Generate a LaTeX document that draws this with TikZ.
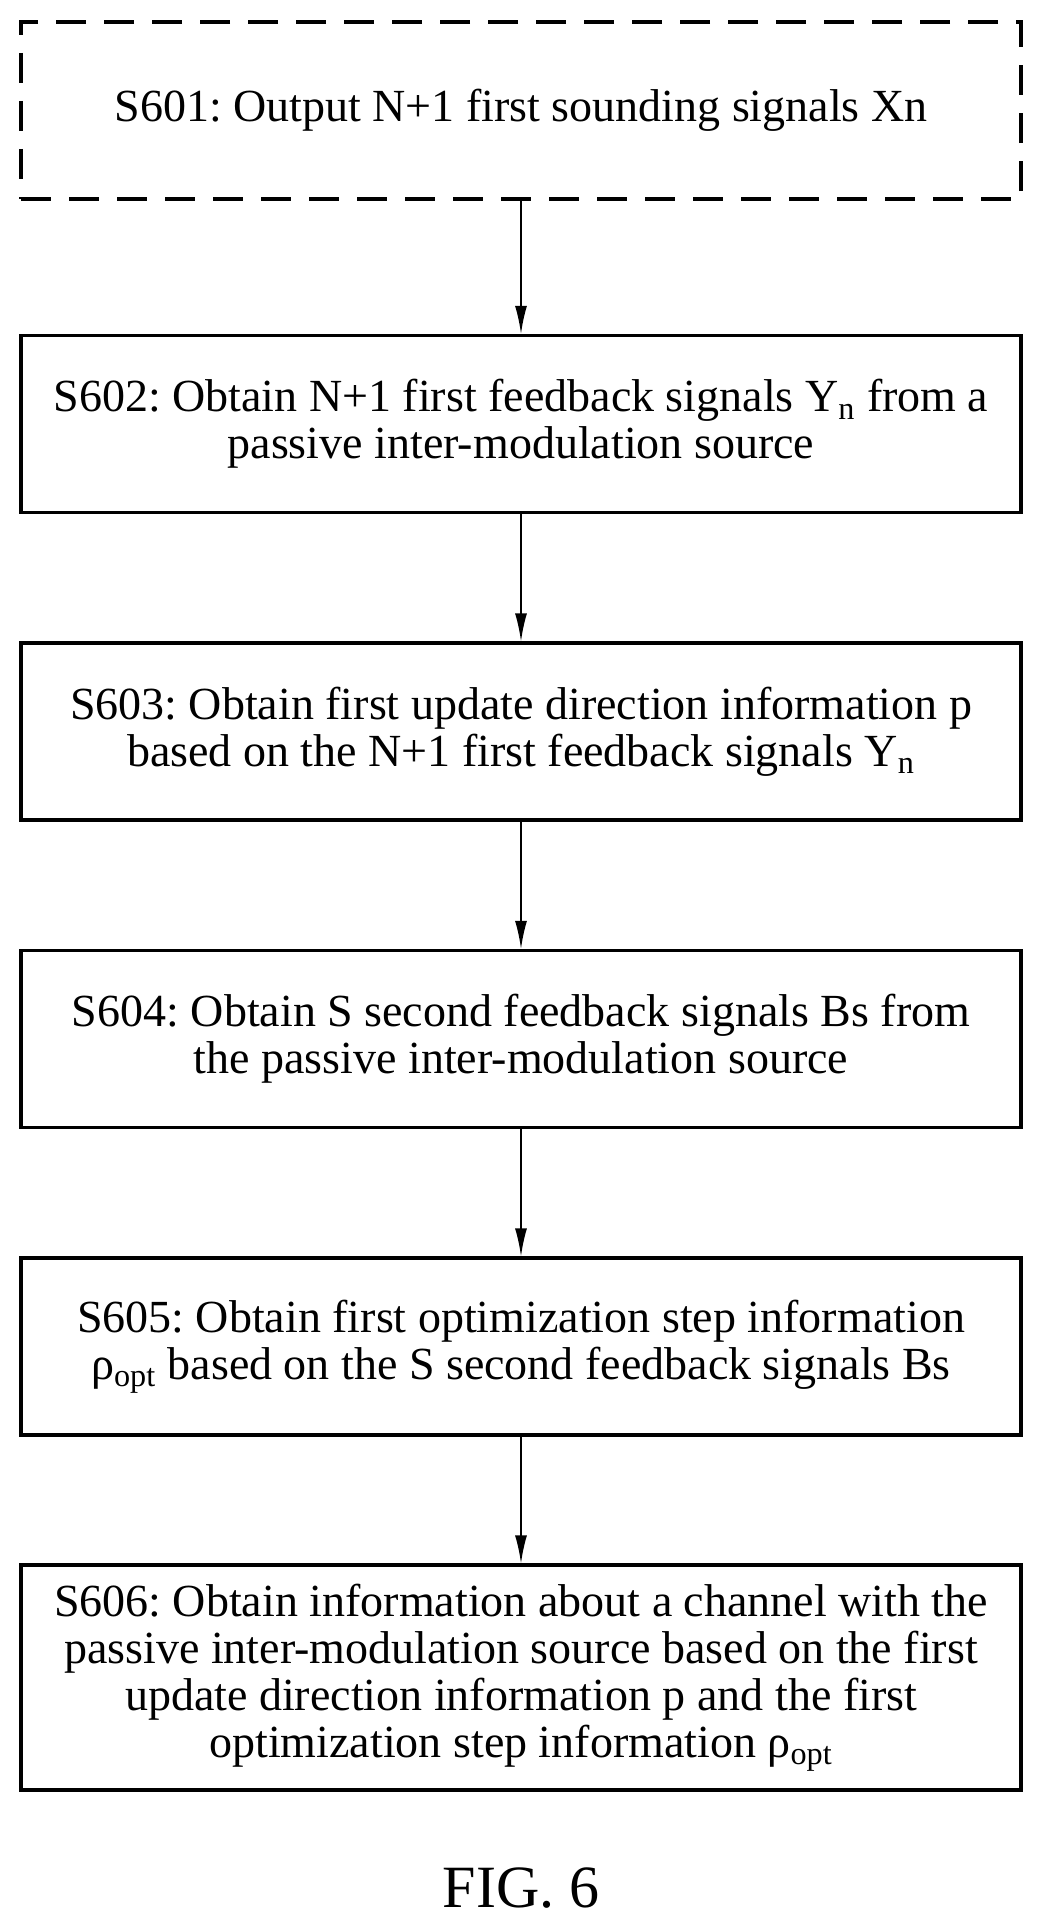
\documentclass[tikz,border=0pt]{standalone}
\usepackage{fontspec}
\setmainfont{Liberation Serif}
\frenchspacing
\usetikzlibrary{arrows.meta}
\begin{document}
\begin{tikzpicture}[x=1pt,y=1pt,
  stepbox/.style={draw,line width=1.6pt,minimum width=500pt,align=center,font=\fontsize{23}{23.5}\selectfont},
  arr/.style={-{Latex[length=14pt,width=6pt]},line width=0.9pt}]
\useasboundingbox (0,0) rectangle (522.5,-966);
\node[stepbox,dash pattern=on 15pt off 9pt,minimum height=88.5pt] (s1) at (260.5,-55.25) {S601: Output N+1 first sounding signals Xn};
\node[stepbox,minimum height=88.5pt] (s2) at (260.5,-212) {S602: Obtain N+1 first feedback signals Y\textsubscript{n} from a\\ passive inter-modulation source};
\node[stepbox,minimum height=88.5pt] (s3) at (260.5,-365.75) {S603: Obtain first update direction information p\\ based on the N+1 first feedback signals Y\textsubscript{n}};
\node[stepbox,minimum height=88.5pt] (s4) at (260.5,-519.5) {S604: Obtain S second feedback signals Bs from\\ the passive inter-modulation source};
\node[stepbox,minimum height=88.5pt] (s5) at (260.5,-673.25) {S605: Obtain first optimization step information\\ ρ\textsubscript{opt} based on the S second feedback signals Bs};
\node[stepbox,minimum height=112.5pt] (s6) at (260.5,-838.75) {S606: Obtain information about a channel with the\\ passive inter-modulation source based on the first\\ update direction information p and the first\\ optimization step information ρ\textsubscript{opt}};
\node[font=\fontsize{30}{34}\selectfont] (fig) at (260.5,-944) {FIG. 6};
\draw[arr] (s1) -- (s2);
\draw[arr] (s2) -- (s3);
\draw[arr] (s3) -- (s4);
\draw[arr] (s4) -- (s5);
\draw[arr] (s5) -- (s6);
\end{tikzpicture}
\end{document}
